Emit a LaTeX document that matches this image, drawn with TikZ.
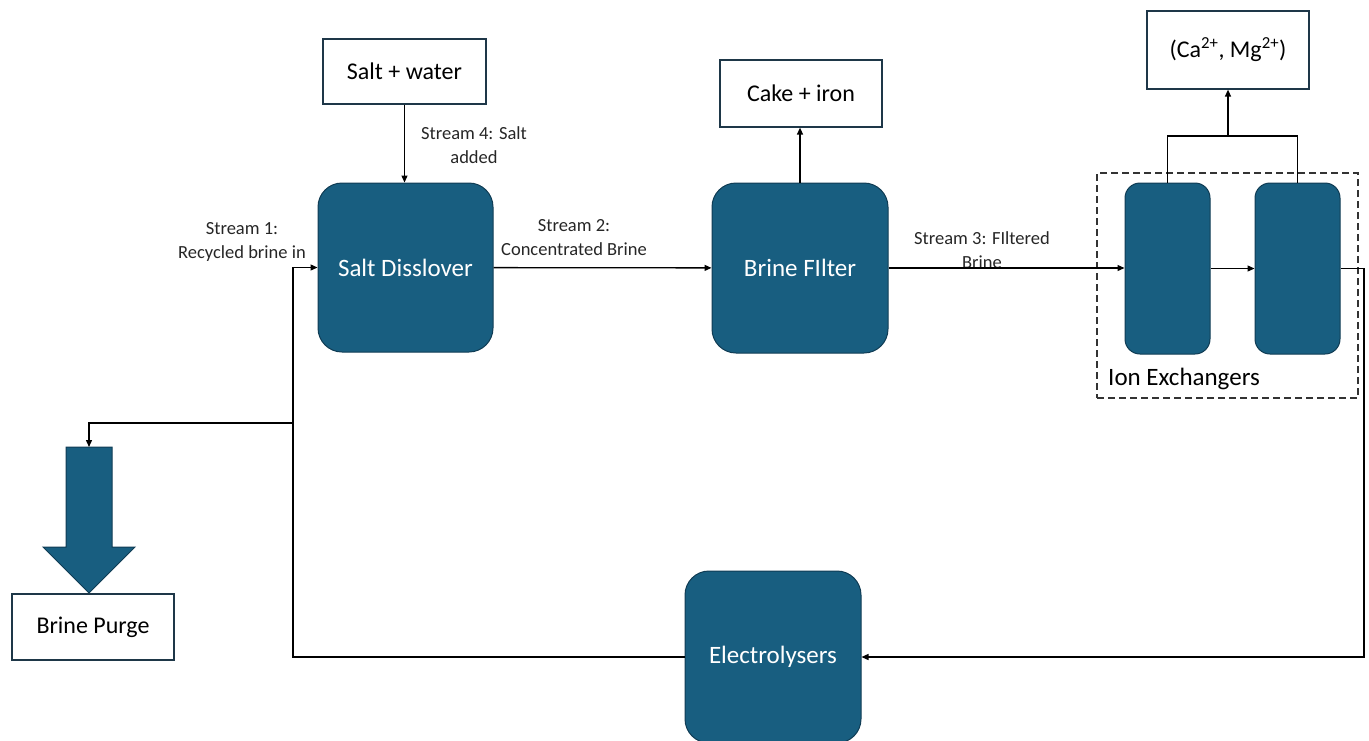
\documentclass[tikz,border=0pt]{standalone}
\usepackage{fontspec}
\setmainfont{Carlito}
\usetikzlibrary{arrows.meta}
\definecolor{unit}{RGB}{24,94,128}
\definecolor{unitedge}{RGB}{16,60,84}
\definecolor{boxedge}{RGB}{30,55,72}
\begin{document}
\begin{tikzpicture}[x=1pt,y=-1pt,
  unitbox/.style={draw=unitedge, line width=1pt, fill=unit, rounded corners=24pt, text=white, font=\fontsize{25}{28}\selectfont, inner sep=0pt},
  outbox/.style={draw=boxedge, line width=1.2pt, fill=white, font=\fontsize{24}{28}\selectfont, inner sep=0pt},
  lbl/.style={font=\fontsize{18.5}{24}\selectfont, align=center, text=black!85},
  flow/.style={line width=1.3pt, -{Triangle[length=7pt,width=6pt]}},
  pipe/.style={line width=1.3pt}]
\useasboundingbox (0,0) rectangle (1369,740);
% nodes
\node[outbox, minimum width=163pt, minimum height=65pt] (sw) at (404.5,71.5) {Salt + water};
\node[unitbox, minimum width=175pt, minimum height=169pt] (sd) at (405.5,267.5) {Salt Disslover};
\node[unitbox, minimum width=176pt, minimum height=170pt] (bf) at (800,268) {Brine FIlter};
\node[outbox, minimum width=162pt, minimum height=67pt] (ci) at (801,93.5) {Cake + iron};
\node[unitbox, rounded corners=15pt, minimum width=85pt, minimum height=171pt] (ie1) at (1167.5,268.5) {};
\node[unitbox, rounded corners=15pt, minimum width=85pt, minimum height=171pt] (ie2) at (1297.5,268.5) {};
\node[draw=black!80, dash pattern=on 7pt off 4pt, line width=1.2pt, minimum width=261pt, minimum height=225pt, inner sep=0pt] (iex) at (1227.5,285.5) {};
\node[font=\fontsize{25}{28}\selectfont, anchor=west, inner sep=0pt] (ielbl) at (1108,379) {Ion Exchangers};
\node[outbox, minimum width=162pt, minimum height=78pt] (ca) at (1228,50) {(Ca\textsuperscript{2+}, Mg\textsuperscript{2+})};
\node[unitbox, minimum width=176pt, minimum height=172pt] (el) at (773,657) {Electrolysers};
\node[outbox, minimum width=162pt, minimum height=66pt] (bp) at (93,627) {Brine Purge};
% big purge arrow
\draw[fill=unit, draw=unitedge, line width=1pt] (66,447) -- (112,447) -- (112,547) -- (135,547) -- (89,593) -- (43,547) -- (66,547) -- cycle;
\coordinate (purgetop) at (89,447);
% labels
\node[lbl] (l4) at (474,145) {Stream 4: Salt\\added};
\node[lbl] (l1) at (242,242) {Stream 1:\\Recycled brine in};
\node[lbl] (l2) at (574,238) {Stream 2:\\Concentrated Brine};
\node[lbl] (l3) at (982,250) {Stream 3: FIltered\\Brine};
% connectors
\draw[flow] (sw.south) -- (sw.south |- sd.north);
\draw[flow] (sd) -- (bf);
\draw[flow] (bf.north) -- (bf.north |- ci.south);
\draw[flow] (bf.east) -- (bf.east -| ie1.west);
\draw[flow] (ie1) -- (ie2);
\coordinate (jn) at (1228,136);
\draw[pipe] (ie1.north) |- (jn) -| (ie2.north);
\draw[flow] (jn) -- (jn |- ca.south);
\coordinate (ret) at (1364,268.5);
\draw[flow] (ie2.east) -- (ret) |- (el.east);
\coordinate (loop) at (293,657);
\draw[flow] (el.west) -- (loop) -- (loop |- sd.west) -- (sd.west);
\coordinate (tee) at (293,423);
\draw[flow] (tee) -| (purgetop);
\end{tikzpicture}
\end{document}
